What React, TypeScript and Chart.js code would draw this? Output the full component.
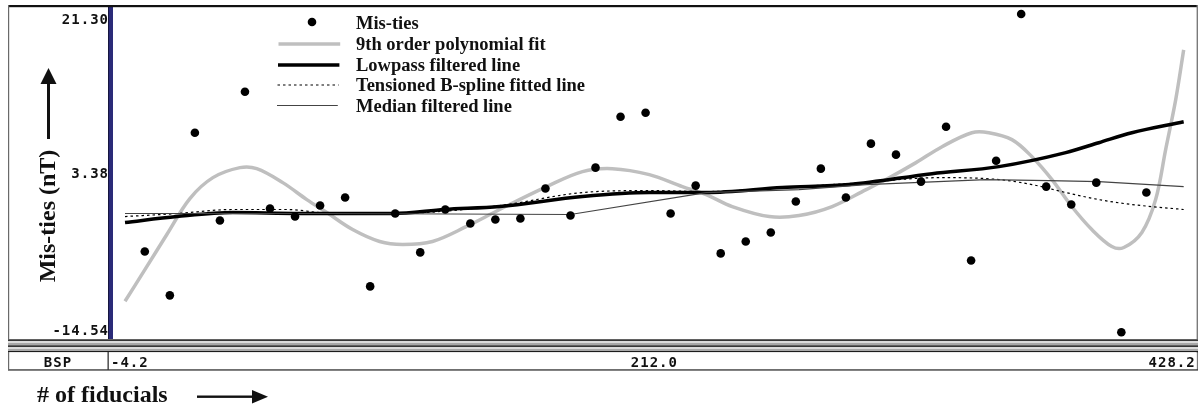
import React, { useEffect, useRef } from "react";
import { Chart, registerables } from "chart.js";

Chart.register(...registerables);

// ---------- data ----------
const misTieX = [
  8.5, 18.5, 28.5, 38.5, 48.5, 58.5, 68.5, 78.5, 88.5, 98.5, 108.5, 118.5, 128.5, 138.5,
  148.5, 158.5, 168.5, 178.5, 188.5, 198.5, 208.5, 218.5, 228.5, 238.5, 248.5, 258.5,
  268.5, 278.5, 288.5, 298.5, 308.5, 318.5, 328.5, 338.5, 348.5, 358.5, 368.5, 378.5,
  388.5, 398.5, 408.5,
];
const misTieY = [
  -5.09, -9.83, 7.73, -1.75, 12.15, -0.46, -1.32, -0.13, 0.73, -8.86, -0.99, -5.19, -0.56,
  -2.07, -1.64, -1.53, 1.7, -1.21, 3.96, 9.45, 9.88, -0.99, 2.02, -5.3, -4.01, -3.04, 0.3,
  3.85, 0.73, 6.55, 5.36, 2.45, 8.38, -6.06, 4.71, 20.55, 1.91, -0.02, 2.34, -13.81, 1.27,
];

const polyX = [
  0.6, 8.6, 17.3, 26.5, 35.7, 46.5, 53.2, 63.6, 73.2, 81.2, 91.5, 102.3, 111.5, 123.4,
  137.0, 150.2, 169.0, 183.3, 195.2, 210.0, 223.2, 232.7, 243.1, 257.9, 269.8, 283.0, 296.6,
  304.5, 316.5, 326.9, 338.8, 345.6, 354.8, 362.8, 370.8, 378.7, 386.7, 394.7, 399.5, 406.7,
  412.2, 416.2, 420.2, 423.4,
];
const polyY = [
  -10.47, -7.03, -3.26, 0.62, 2.88, 3.96, 3.85, 2.34, 0.51, -0.89, -2.72, -4.01, -4.33,
  -4.01, -2.39, -0.56, 1.91, 3.53, 3.85, 3.21, 1.91, 1.05, -0.24, -1.32, -1.21, -0.24, 1.59,
  2.67, 4.5, 6.22, 7.73, 7.73, 6.98, 5.14, 2.67, -0.24, -2.72, -4.55, -4.66, -3.04, 0.51, 5.9,
  11.28, 16.67,
];

const lowpassX = [0.6, 21.3, 43.7, 70.4, 107.5, 128.2, 150.2, 183.3, 210.0, 232.7, 263.1, 289.8, 322.9, 349.6, 376.3, 389.5, 402.7, 423.4];
const lowpassY = [-1.96, -1.32, -0.89, -0.99, -0.99, -0.56, -0.24, 0.84, 1.27, 1.27, 1.81, 2.13, 3.31, 4.07, 5.58, 6.65, 7.73, 8.91];

const splineX = [0.6, 21.7, 43.7, 65.2, 83.6, 107.5, 150.2, 183.3, 210.0, 232.7, 263.1, 289.8, 326.9, 349.6, 362.8, 376.3, 389.5, 402.7, 423.4];
const splineY = [-1.32, -0.99, -0.56, -0.56, -0.99, -0.99, -0.13, 1.27, 1.48, 1.38, 1.81, 2.24, 2.88, 2.67, 2.13, 1.27, 0.51, -0.02, -0.56];

const medianX = [0.6, 82.4, 178.5, 232.7, 269.8, 296.6, 344.4, 369.5, 389.5, 423.4];
const medianY = [-0.99, -0.99, -1.1, 1.27, 1.59, 2.13, 2.67, 2.56, 2.45, 1.91];

const seriesLabels = [
  "Mis-ties",
  "9th order polynomial fit",
  "Lowpass filtered line",
  "Tensioned B-spline fitted line",
  "Median filtered line",
];
const yTickValues = [21.3, 3.38, -14.54];
const yTickLabels = ["21.30", "3.38", "-14.54"];
const xTickValues = [-4.2, 212.0, 428.2];
const xTickLabels = ["-4.2", "212.0", "428.2"];
const yTitle = "Mis-ties (nT)";
const xTitle = "# of fiducials";
const stripLabel = "BSP";

const pts = (xs: number[], ys: number[]) => xs.map((v, i) => ({ x: v, y: ys[i] }));

const MONO = 'bold 14px "DejaVu Sans Mono"';
const SERIF_LEGEND = 'bold 18.5px "Liberation Serif"';
const SERIF_TITLE = 'bold 24px "Liberation Serif"';

const framePlugin = {
  id: "frame",
  beforeDraw(chart: any) {
    const ctx = chart.ctx;
    ctx.save();
    ctx.fillStyle = "#ffffff";
    ctx.fillRect(0, 0, chart.width, chart.height);
    ctx.restore();
  },
  afterDraw(chart: any) {
    const ctx: CanvasRenderingContext2D = chart.ctx;
    const ca = chart.chartArea;
    const xs = chart.scales.x;
    const ys = chart.scales.y;
    ctx.save();

    // y tick labels
    ctx.font = MONO;
    (ctx as any).letterSpacing = "1px";
    ctx.fillStyle = "#111";
    ctx.textAlign = "right";
    ctx.textBaseline = "alphabetic";
    const yOffsets = [16.5, 5, -4];
    yTickValues.forEach((v, i) => {
      ctx.fillText(yTickLabels[i], 109, ys.getPixelForValue(v) + yOffsets[i]);
    });

    // blue axis bar
    ctx.fillStyle = "#2a2a78";
    ctx.fillRect(108, ca.top, 5, ca.bottom - ca.top);
    ctx.fillStyle = "#15153f";
    ctx.fillRect(108, ca.top, 1, ca.bottom - ca.top);

    // outer frame
    ctx.fillStyle = "#111";
    ctx.fillRect(8, 5, 1190, 2.2);
    ctx.fillStyle = "#6a6a6a";
    ctx.fillRect(8, 5, 1.2, 365);
    ctx.fillStyle = "#7a7a7a";
    ctx.fillRect(1196.6, 5, 1.4, 365);

    // double band
    ctx.fillStyle = "#a8a8a8";
    ctx.fillRect(8, 339, 1190, 13);
    ctx.fillStyle = "#dcdcdc";
    ctx.fillRect(8, 341, 1190, 2);
    ctx.fillRect(8, 347, 1190, 2);
    ctx.fillStyle = "#1c1c1c";
    ctx.fillRect(8, 339.5, 1190, 1.3);
    ctx.fillRect(8, 345.5, 1190, 1.3);
    ctx.fillRect(8, 351, 1190, 1.3);

    // bottom strip
    ctx.fillStyle = "#ffffff";
    ctx.fillRect(9, 352.3, 1187.6, 17);
    ctx.fillStyle = "#333";
    ctx.fillRect(8, 369.3, 1190, 1.3);
    ctx.fillRect(107.5, 352, 1.3, 18);
    ctx.fillStyle = "#6a6a6a";
    ctx.fillRect(8, 352, 1.2, 18);

    ctx.font = MONO;
    ctx.fillStyle = "#111";
    ctx.textAlign = "center";
    ctx.fillText(stripLabel, 58, 366.5);
    const xAligns: CanvasTextAlign[] = ["left", "center", "right"];
    const xOffsets = [-2, 0, 0];
    xTickValues.forEach((v, i) => {
      ctx.textAlign = xAligns[i];
      ctx.fillText(xTickLabels[i], xs.getPixelForValue(v) + xOffsets[i], 366.5);
    });
    (ctx as any).letterSpacing = "0px";

    // y title (rotated) and arrow
    ctx.save();
    ctx.translate(55, 216);
    ctx.rotate(-Math.PI / 2);
    ctx.font = SERIF_TITLE;
    ctx.fillStyle = "#111";
    ctx.textAlign = "center";
    ctx.textBaseline = "alphabetic";
    ctx.fillText(yTitle, 0, 0);
    ctx.restore();

    ctx.fillStyle = "#111";
    ctx.fillRect(47, 83, 3, 56);
    ctx.beginPath();
    ctx.moveTo(48.5, 68);
    ctx.lineTo(56.5, 84);
    ctx.lineTo(40.5, 84);
    ctx.closePath();
    ctx.fill();

    // x title and arrow
    ctx.font = SERIF_TITLE;
    ctx.textAlign = "left";
    ctx.fillText(xTitle, 37, 402);
    ctx.fillRect(197, 395.5, 57, 2.4);
    ctx.beginPath();
    ctx.moveTo(268, 396.7);
    ctx.lineTo(252, 390);
    ctx.lineTo(252, 403.4);
    ctx.closePath();
    ctx.fill();

    // legend
    const rowY = [23, 44, 65, 85, 105.5];
    const ds = chart.data.datasets;
    ctx.font = SERIF_LEGEND;
    ctx.textAlign = "left";
    ctx.textBaseline = "alphabetic";
    rowY.forEach((ry, i) => {
      const d = ds[i];
      if (i === 0) {
        ctx.fillStyle = "#000";
        ctx.beginPath();
        ctx.arc(312, ry - 1, 4.3, 0, Math.PI * 2);
        ctx.fill();
      } else {
        ctx.save();
        ctx.strokeStyle = d.borderColor;
        ctx.lineWidth = d.borderWidth;
        ctx.setLineDash(d.borderDash || []);
        ctx.beginPath();
        ctx.moveTo(279 - i * 0.5, ry);
        ctx.lineTo(341 - i * 0.8, ry);
        ctx.stroke();
        ctx.restore();
      }
      ctx.fillStyle = "#111";
      ctx.fillText(d.label, 356, ry + 6);
    });

    ctx.restore();
  },
};

export default function App() {
  const ref = useRef<HTMLCanvasElement | null>(null);

  useEffect(() => {
    if (!ref.current) return;
    const chart = new Chart(ref.current, {
      type: "scatter",
      data: {
        datasets: [
          {
            label: seriesLabels[0],
            data: pts(misTieX, misTieY),
            showLine: false,
            pointRadius: 4.3,
            pointBackgroundColor: "#000",
            pointBorderColor: "#000",
            pointBorderWidth: 0,
            order: 0,
          },
          {
            label: seriesLabels[1],
            data: pts(polyX, polyY),
            showLine: true,
            borderColor: "#bfbfbf",
            borderWidth: 3.5,
            pointRadius: 0,
            tension: 0.35,
            order: 4,
          },
          {
            label: seriesLabels[2],
            data: pts(lowpassX, lowpassY),
            showLine: true,
            borderColor: "#000",
            borderWidth: 3.5,
            pointRadius: 0,
            cubicInterpolationMode: "monotone",
            order: 3,
          },
          {
            label: seriesLabels[3],
            data: pts(splineX, splineY),
            showLine: true,
            borderColor: "#000",
            borderWidth: 1.2,
            borderDash: [2.5, 3],
            pointRadius: 0,
            cubicInterpolationMode: "monotone",
            order: 2,
          },
          {
            label: seriesLabels[4],
            data: pts(medianX, medianY),
            showLine: true,
            borderColor: "#444",
            borderWidth: 1.2,
            pointRadius: 0,
            order: 1,
          },
        ],
      } as any,
      options: {
        responsive: false,
        maintainAspectRatio: false,
        animation: false,
        events: [],
        devicePixelRatio: 1,
        layout: { padding: { left: 113, right: 3, top: 7, bottom: 69 } },
        scales: {
          x: { type: "linear", min: -4.2, max: 428.2, display: false },
          y: { type: "linear", min: -14.54, max: 21.3, display: false },
        },
        plugins: { legend: { display: false }, tooltip: { enabled: false } },
      } as any,
      plugins: [framePlugin],
    });
    return () => chart.destroy();
  }, []);

  return (
    <div style={{ position: "absolute", left: 0, top: 0, width: 1200, height: 408 }}>
      <canvas ref={ref} width={1200} height={408} style={{ width: 1200, height: 408, display: "block" }} />
    </div>
  );
}
